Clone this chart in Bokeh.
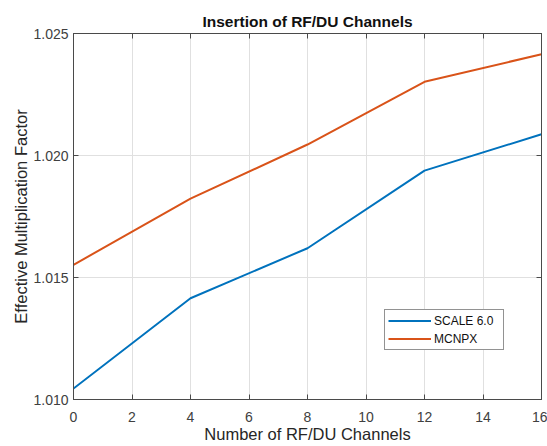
from bokeh.plotting import figure
from bokeh.models import Range1d, FixedTicker, LinearAxis, PrintfTickFormatter, Legend, LegendItem
from bokeh.embed import file_html
from bokeh.resources import INLINE

channels = [0, 4, 8, 12, 16]
scale60 = [1.01045, 1.01415, 1.01620, 1.01938, 1.02087]
mcnpx = [1.01552, 1.01823, 1.02045, 1.02302, 1.02415]
x_ticks = [0, 2, 4, 6, 8, 10, 12, 14, 16]
y_ticks = [1.010, 1.015, 1.020, 1.025]

FONT = "Liberation Sans"
AX = "#4a4a4a"

p = figure(width=547, height=446, output_backend="svg", toolbar_location=None,
           x_range=Range1d(0, 16), y_range=Range1d(1.010, 1.025),
           title="Insertion of RF/DU Channels",
           min_border_left=73, min_border_right=6, min_border_top=33, min_border_bottom=47)

p.title.align = "center"
p.title.text_font = FONT
p.title.text_font_size = "15.5px"
p.title.text_font_style = "bold"
p.title.text_color = "#111111"
p.title.standoff = 7

p.outline_line_color = AX
p.outline_line_width = 1

for ax in [p.xaxis[0], p.yaxis[0]]:
    ax.axis_line_color = AX
    ax.major_tick_line_color = AX
    ax.major_tick_in = 5
    ax.major_tick_out = 0
    ax.minor_tick_line_color = None
    ax.major_label_text_font = FONT
    ax.major_label_text_font_size = "14px"
    ax.major_label_text_color = "#404040"
    ax.axis_label_text_font = FONT
    ax.axis_label_text_font_size = "16.5px"
    ax.axis_label_text_font_style = "normal"
    ax.axis_label_text_color = "#262626"

p.xaxis.ticker = FixedTicker(ticks=x_ticks)
p.yaxis.ticker = FixedTicker(ticks=y_ticks)
p.yaxis.formatter = PrintfTickFormatter(format="%.3f")
p.xaxis.axis_label = "Number of RF/DU Channels"
p.yaxis.axis_label = "Effective Multiplication Factor"
p.xaxis.major_label_standoff = 12
p.yaxis.major_label_standoff = 5
p.xaxis.axis_label_standoff = 0
p.yaxis.axis_label_standoff = 0

top = LinearAxis(ticker=FixedTicker(ticks=x_ticks), major_label_text_font_size="1px",
                 major_label_text_color=None,
                 major_tick_in=5, major_tick_out=0, minor_tick_line_color=None,
                 axis_line_color=AX, major_tick_line_color=AX, major_label_standoff=0)
right = LinearAxis(ticker=FixedTicker(ticks=y_ticks), major_label_text_font_size="1px",
                   major_label_text_color=None,
                   major_tick_in=5, major_tick_out=0, minor_tick_line_color=None,
                   axis_line_color=AX, major_tick_line_color=AX, major_label_standoff=0)
p.add_layout(top, "above")
p.add_layout(right, "right")

p.xgrid.grid_line_color = "#e0e0e0"
p.ygrid.grid_line_color = "#e0e0e0"

r1 = p.line(channels, scale60, line_color="#0072BD", line_width=2)
r2 = p.line(channels, mcnpx, line_color="#D95319", line_width=2)

legend = Legend(items=[LegendItem(label="SCALE 6.0", renderers=[r1]),
                       LegendItem(label="MCNPX", renderers=[r2])],
                location=(311, 49), orientation="vertical",
                border_line_color="#262626", background_fill_color="white",
                background_fill_alpha=1.0,
                label_text_font=FONT, label_text_font_size="12px", label_text_color="#111111",
                glyph_width=43, glyph_height=15, label_height=15, label_width=66,
                label_standoff=3, spacing=3, padding=3, margin=0)
p.add_layout(legend, "center")

open("out.html", "w").write(file_html(p, INLINE))
